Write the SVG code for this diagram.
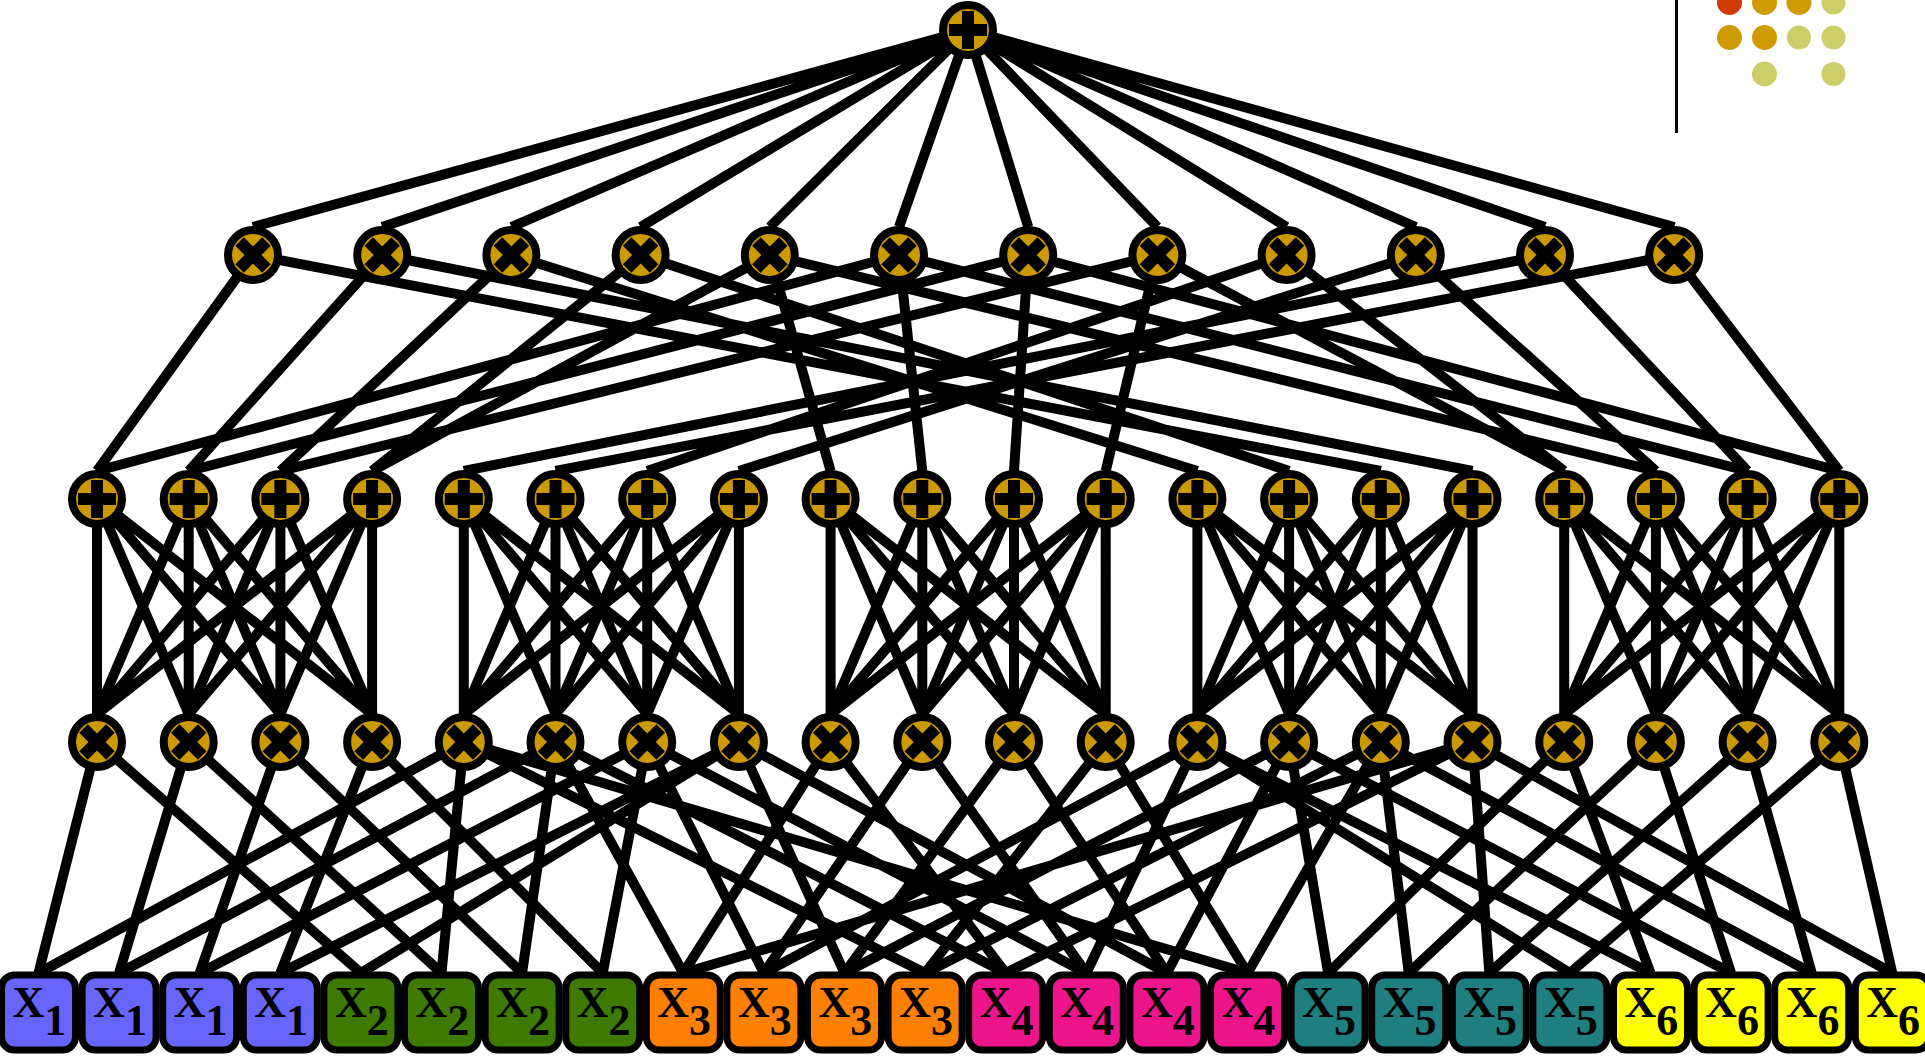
<svg xmlns="http://www.w3.org/2000/svg" xmlns:xlink="http://www.w3.org/1999/xlink" width="1925" height="1056" viewBox="0 0 1925 1056">
<style>
.e{stroke:#000;stroke-width:10;fill:none}
.n circle{fill:#CC9900;stroke:#000;stroke-width:8}
.lf rect{stroke:#000;stroke-width:7}
.lf text{font-family:"Liberation Serif",serif;font-weight:bold;font-size:44px;fill:#000}
.c1{fill:#6666FF}.c2{fill:#3F7A00}.c3{fill:#FF8000}.c4{fill:#F0148C}.c5{fill:#1F7F7F}.c6{fill:#FFFF00}
</style>
<defs>
<path id="plus" d="M-6-19h12v13h13v12h-13v13h-12v-13h-13v-12h13z"/>
<g id="times"><path transform="rotate(45)" d="M-6-19h12v13h13v12h-13v13h-12v-13h-13v-12h13z"/></g>
</defs>
<rect width="1925" height="1056" fill="#fff"/>
<g id="decor">
<line x1="1676.5" y1="0" x2="1676.5" y2="133" stroke="#000" stroke-width="3"/>
<circle cx="1729.5" cy="2.5" r="12.5" fill="#D13B02"/>
<circle cx="1764.5" cy="2.5" r="12.5" fill="#CF9B00"/>
<circle cx="1799" cy="2.5" r="12.5" fill="#CF9B00"/>
<circle cx="1833.5" cy="2.5" r="12" fill="#CDCD69"/>
<circle cx="1729.5" cy="37.5" r="12.5" fill="#CF9B00"/>
<circle cx="1764.5" cy="37.5" r="12.5" fill="#CF9B00"/>
<circle cx="1799" cy="37.5" r="12" fill="#CDCD69"/>
<circle cx="1833.5" cy="37.5" r="12" fill="#CDCD69"/>
<circle cx="1764.5" cy="74" r="12.5" fill="#CDCD69"/>
<circle cx="1833.5" cy="74" r="12" fill="#CDCD69"/>
</g>
<g id="connectors" class="e">
<path d="M968 30L253 227M968 30L382.2 227M968 30L511.4 227M968 30L640.6 227M968 30L769.8 227M968 30L899 227M968 30L1028.2 227M968 30L1157.4 227M968 30L1286.6 227M968 30L1415.8 227M968 30L1545 227M968 30L1674.2 227"/>
<path d="M253 255L97 471M253 255L1380.8 471M382.2 255L188.7 471M382.2 255L1472.5 471M511.4 255L280.4 471M511.4 255L1197.4 471M640.6 255L372.1 471M640.6 255L1289.1 471M769.8 255L372.1 471M769.8 255L830.6 471M769.8 255L1655.9 471M899 255L97 471M899 255L922.3 471M899 255L1747.6 471M1028.2 255L188.7 471M1028.2 255L1014 471M1028.2 255L1839.3 471M1157.4 255L280.4 471M1157.4 255L1105.7 471M1157.4 255L1564.2 471M1286.6 255L1564.2 471M1286.6 255L647.2 471M1415.8 255L1655.9 471M1415.8 255L738.9 471M1545 255L1747.6 471M1545 255L463.8 471M1674.2 255L1839.3 471M1674.2 255L555.5 471"/>
<path d="M97 499L97 714M97 499L188.7 714M97 499L280.4 714M97 499L372.1 714M188.7 499L97 714M188.7 499L188.7 714M188.7 499L280.4 714M188.7 499L372.1 714M280.4 499L97 714M280.4 499L188.7 714M280.4 499L280.4 714M280.4 499L372.1 714M372.1 499L97 714M372.1 499L188.7 714M372.1 499L280.4 714M372.1 499L372.1 714"/>
<path d="M463.8 499L463.8 714M463.8 499L555.5 714M463.8 499L647.2 714M463.8 499L738.9 714M555.5 499L463.8 714M555.5 499L555.5 714M555.5 499L647.2 714M555.5 499L738.9 714M647.2 499L463.8 714M647.2 499L555.5 714M647.2 499L647.2 714M647.2 499L738.9 714M738.9 499L463.8 714M738.9 499L555.5 714M738.9 499L647.2 714M738.9 499L738.9 714"/>
<path d="M830.6 499L830.6 714M830.6 499L922.3 714M830.6 499L1014 714M830.6 499L1105.7 714M922.3 499L830.6 714M922.3 499L922.3 714M922.3 499L1014 714M922.3 499L1105.7 714M1014 499L830.6 714M1014 499L922.3 714M1014 499L1014 714M1014 499L1105.7 714M1105.7 499L830.6 714M1105.7 499L922.3 714M1105.7 499L1014 714M1105.7 499L1105.7 714"/>
<path d="M1197.4 499L1197.4 714M1197.4 499L1289.1 714M1197.4 499L1380.8 714M1197.4 499L1472.5 714M1289.1 499L1197.4 714M1289.1 499L1289.1 714M1289.1 499L1380.8 714M1289.1 499L1472.5 714M1380.8 499L1197.4 714M1380.8 499L1289.1 714M1380.8 499L1380.8 714M1380.8 499L1472.5 714M1472.5 499L1197.4 714M1472.5 499L1289.1 714M1472.5 499L1380.8 714M1472.5 499L1472.5 714"/>
<path d="M1564.2 499L1564.2 714M1564.2 499L1655.9 714M1564.2 499L1747.6 714M1564.2 499L1839.3 714M1655.9 499L1564.2 714M1655.9 499L1655.9 714M1655.9 499L1747.6 714M1655.9 499L1839.3 714M1747.6 499L1564.2 714M1747.6 499L1655.9 714M1747.6 499L1747.6 714M1747.6 499L1839.3 714M1839.3 499L1564.2 714M1839.3 499L1655.9 714M1839.3 499L1747.6 714M1839.3 499L1839.3 714"/>
<path d="M97 742L38.5 973M97 742L360.9 973M188.7 742L119.1 973M188.7 742L441.5 973M280.4 742L199.7 973M280.4 742L522.1 973M372.1 742L280.3 973M372.1 742L602.7 973"/>
<path d="M463.8 742L38.5 973M463.8 742L441.5 973M463.8 742L925.1 973M463.8 742L1247.5 973M555.5 742L119.1 973M555.5 742L522.1 973M555.5 742L683.3 973M555.5 742L1005.7 973M647.2 742L199.7 973M647.2 742L602.7 973M647.2 742L763.9 973M647.2 742L1086.3 973M738.9 742L280.3 973M738.9 742L360.9 973M738.9 742L844.5 973M738.9 742L1166.9 973"/>
<path d="M830.6 742L683.3 973M830.6 742L1005.7 973M922.3 742L763.9 973M922.3 742L1086.3 973M1014 742L844.5 973M1014 742L1166.9 973M1105.7 742L925.1 973M1105.7 742L1247.5 973"/>
<path d="M1197.4 742L1650.5 973M1197.4 742L1569.9 973M1197.4 742L1086.3 973M1197.4 742L763.9 973M1289.1 742L1731.1 973M1289.1 742L1328.1 973M1289.1 742L1166.9 973M1289.1 742L844.5 973M1380.8 742L1811.7 973M1380.8 742L1408.7 973M1380.8 742L1247.5 973M1380.8 742L925.1 973M1472.5 742L1892.3 973M1472.5 742L1489.3 973M1472.5 742L1005.7 973M1472.5 742L683.3 973"/>
<path d="M1564.2 742L1650.5 973M1564.2 742L1328.1 973M1655.9 742L1731.1 973M1655.9 742L1408.7 973M1747.6 742L1811.7 973M1747.6 742L1489.3 973M1839.3 742L1892.3 973M1839.3 742L1569.9 973"/>
</g>
<g id="root" class="n"><circle cx="968" cy="30" r="25"/><use xlink:href="#plus" x="968" y="30"/></g>
<g id="t0" class="n"><circle cx="253" cy="255" r="25"/><use xlink:href="#times" x="253" y="255"/></g>
<g id="t1" class="n"><circle cx="382.2" cy="255" r="25"/><use xlink:href="#times" x="382.2" y="255"/></g>
<g id="t2" class="n"><circle cx="511.4" cy="255" r="25"/><use xlink:href="#times" x="511.4" y="255"/></g>
<g id="t3" class="n"><circle cx="640.6" cy="255" r="25"/><use xlink:href="#times" x="640.6" y="255"/></g>
<g id="t4" class="n"><circle cx="769.8" cy="255" r="25"/><use xlink:href="#times" x="769.8" y="255"/></g>
<g id="t5" class="n"><circle cx="899" cy="255" r="25"/><use xlink:href="#times" x="899" y="255"/></g>
<g id="t6" class="n"><circle cx="1028.2" cy="255" r="25"/><use xlink:href="#times" x="1028.2" y="255"/></g>
<g id="t7" class="n"><circle cx="1157.4" cy="255" r="25"/><use xlink:href="#times" x="1157.4" y="255"/></g>
<g id="t8" class="n"><circle cx="1286.6" cy="255" r="25"/><use xlink:href="#times" x="1286.6" y="255"/></g>
<g id="t9" class="n"><circle cx="1415.8" cy="255" r="25"/><use xlink:href="#times" x="1415.8" y="255"/></g>
<g id="t10" class="n"><circle cx="1545" cy="255" r="25"/><use xlink:href="#times" x="1545" y="255"/></g>
<g id="t11" class="n"><circle cx="1674.2" cy="255" r="25"/><use xlink:href="#times" x="1674.2" y="255"/></g>
<g id="p0" class="n"><circle cx="97" cy="499" r="25"/><use xlink:href="#plus" x="97" y="499"/></g>
<g id="p1" class="n"><circle cx="188.7" cy="499" r="25"/><use xlink:href="#plus" x="188.7" y="499"/></g>
<g id="p2" class="n"><circle cx="280.4" cy="499" r="25"/><use xlink:href="#plus" x="280.4" y="499"/></g>
<g id="p3" class="n"><circle cx="372.1" cy="499" r="25"/><use xlink:href="#plus" x="372.1" y="499"/></g>
<g id="p4" class="n"><circle cx="463.8" cy="499" r="25"/><use xlink:href="#plus" x="463.8" y="499"/></g>
<g id="p5" class="n"><circle cx="555.5" cy="499" r="25"/><use xlink:href="#plus" x="555.5" y="499"/></g>
<g id="p6" class="n"><circle cx="647.2" cy="499" r="25"/><use xlink:href="#plus" x="647.2" y="499"/></g>
<g id="p7" class="n"><circle cx="738.9" cy="499" r="25"/><use xlink:href="#plus" x="738.9" y="499"/></g>
<g id="p8" class="n"><circle cx="830.6" cy="499" r="25"/><use xlink:href="#plus" x="830.6" y="499"/></g>
<g id="p9" class="n"><circle cx="922.3" cy="499" r="25"/><use xlink:href="#plus" x="922.3" y="499"/></g>
<g id="p10" class="n"><circle cx="1014" cy="499" r="25"/><use xlink:href="#plus" x="1014" y="499"/></g>
<g id="p11" class="n"><circle cx="1105.7" cy="499" r="25"/><use xlink:href="#plus" x="1105.7" y="499"/></g>
<g id="p12" class="n"><circle cx="1197.4" cy="499" r="25"/><use xlink:href="#plus" x="1197.4" y="499"/></g>
<g id="p13" class="n"><circle cx="1289.1" cy="499" r="25"/><use xlink:href="#plus" x="1289.1" y="499"/></g>
<g id="p14" class="n"><circle cx="1380.8" cy="499" r="25"/><use xlink:href="#plus" x="1380.8" y="499"/></g>
<g id="p15" class="n"><circle cx="1472.5" cy="499" r="25"/><use xlink:href="#plus" x="1472.5" y="499"/></g>
<g id="p16" class="n"><circle cx="1564.2" cy="499" r="25"/><use xlink:href="#plus" x="1564.2" y="499"/></g>
<g id="p17" class="n"><circle cx="1655.9" cy="499" r="25"/><use xlink:href="#plus" x="1655.9" y="499"/></g>
<g id="p18" class="n"><circle cx="1747.6" cy="499" r="25"/><use xlink:href="#plus" x="1747.6" y="499"/></g>
<g id="p19" class="n"><circle cx="1839.3" cy="499" r="25"/><use xlink:href="#plus" x="1839.3" y="499"/></g>
<g id="m0" class="n"><circle cx="97" cy="742" r="25"/><use xlink:href="#times" x="97" y="742"/></g>
<g id="m1" class="n"><circle cx="188.7" cy="742" r="25"/><use xlink:href="#times" x="188.7" y="742"/></g>
<g id="m2" class="n"><circle cx="280.4" cy="742" r="25"/><use xlink:href="#times" x="280.4" y="742"/></g>
<g id="m3" class="n"><circle cx="372.1" cy="742" r="25"/><use xlink:href="#times" x="372.1" y="742"/></g>
<g id="m4" class="n"><circle cx="463.8" cy="742" r="25"/><use xlink:href="#times" x="463.8" y="742"/></g>
<g id="m5" class="n"><circle cx="555.5" cy="742" r="25"/><use xlink:href="#times" x="555.5" y="742"/></g>
<g id="m6" class="n"><circle cx="647.2" cy="742" r="25"/><use xlink:href="#times" x="647.2" y="742"/></g>
<g id="m7" class="n"><circle cx="738.9" cy="742" r="25"/><use xlink:href="#times" x="738.9" y="742"/></g>
<g id="m8" class="n"><circle cx="830.6" cy="742" r="25"/><use xlink:href="#times" x="830.6" y="742"/></g>
<g id="m9" class="n"><circle cx="922.3" cy="742" r="25"/><use xlink:href="#times" x="922.3" y="742"/></g>
<g id="m10" class="n"><circle cx="1014" cy="742" r="25"/><use xlink:href="#times" x="1014" y="742"/></g>
<g id="m11" class="n"><circle cx="1105.7" cy="742" r="25"/><use xlink:href="#times" x="1105.7" y="742"/></g>
<g id="m12" class="n"><circle cx="1197.4" cy="742" r="25"/><use xlink:href="#times" x="1197.4" y="742"/></g>
<g id="m13" class="n"><circle cx="1289.1" cy="742" r="25"/><use xlink:href="#times" x="1289.1" y="742"/></g>
<g id="m14" class="n"><circle cx="1380.8" cy="742" r="25"/><use xlink:href="#times" x="1380.8" y="742"/></g>
<g id="m15" class="n"><circle cx="1472.5" cy="742" r="25"/><use xlink:href="#times" x="1472.5" y="742"/></g>
<g id="m16" class="n"><circle cx="1564.2" cy="742" r="25"/><use xlink:href="#times" x="1564.2" y="742"/></g>
<g id="m17" class="n"><circle cx="1655.9" cy="742" r="25"/><use xlink:href="#times" x="1655.9" y="742"/></g>
<g id="m18" class="n"><circle cx="1747.6" cy="742" r="25"/><use xlink:href="#times" x="1747.6" y="742"/></g>
<g id="m19" class="n"><circle cx="1839.3" cy="742" r="25"/><use xlink:href="#times" x="1839.3" y="742"/></g>
<g id="leaf0" class="lf"><rect class="c1" x="1.5" y="975" width="74" height="75" rx="13"/><text x="12.5" y="1017">X<tspan dy="18">1</tspan></text></g>
<g id="leaf1" class="lf"><rect class="c1" x="82.1" y="975" width="74" height="75" rx="13"/><text x="93.1" y="1017">X<tspan dy="18">1</tspan></text></g>
<g id="leaf2" class="lf"><rect class="c1" x="162.7" y="975" width="74" height="75" rx="13"/><text x="173.7" y="1017">X<tspan dy="18">1</tspan></text></g>
<g id="leaf3" class="lf"><rect class="c1" x="243.3" y="975" width="74" height="75" rx="13"/><text x="254.3" y="1017">X<tspan dy="18">1</tspan></text></g>
<g id="leaf4" class="lf"><rect class="c2" x="323.9" y="975" width="74" height="75" rx="13"/><text x="334.9" y="1017">X<tspan dy="18">2</tspan></text></g>
<g id="leaf5" class="lf"><rect class="c2" x="404.5" y="975" width="74" height="75" rx="13"/><text x="415.5" y="1017">X<tspan dy="18">2</tspan></text></g>
<g id="leaf6" class="lf"><rect class="c2" x="485.1" y="975" width="74" height="75" rx="13"/><text x="496.1" y="1017">X<tspan dy="18">2</tspan></text></g>
<g id="leaf7" class="lf"><rect class="c2" x="565.7" y="975" width="74" height="75" rx="13"/><text x="576.7" y="1017">X<tspan dy="18">2</tspan></text></g>
<g id="leaf8" class="lf"><rect class="c3" x="646.3" y="975" width="74" height="75" rx="13"/><text x="657.3" y="1017">X<tspan dy="18">3</tspan></text></g>
<g id="leaf9" class="lf"><rect class="c3" x="726.9" y="975" width="74" height="75" rx="13"/><text x="737.9" y="1017">X<tspan dy="18">3</tspan></text></g>
<g id="leaf10" class="lf"><rect class="c3" x="807.5" y="975" width="74" height="75" rx="13"/><text x="818.5" y="1017">X<tspan dy="18">3</tspan></text></g>
<g id="leaf11" class="lf"><rect class="c3" x="888.1" y="975" width="74" height="75" rx="13"/><text x="899.1" y="1017">X<tspan dy="18">3</tspan></text></g>
<g id="leaf12" class="lf"><rect class="c4" x="968.7" y="975" width="74" height="75" rx="13"/><text x="979.7" y="1017">X<tspan dy="18">4</tspan></text></g>
<g id="leaf13" class="lf"><rect class="c4" x="1049.3" y="975" width="74" height="75" rx="13"/><text x="1060.3" y="1017">X<tspan dy="18">4</tspan></text></g>
<g id="leaf14" class="lf"><rect class="c4" x="1129.9" y="975" width="74" height="75" rx="13"/><text x="1140.9" y="1017">X<tspan dy="18">4</tspan></text></g>
<g id="leaf15" class="lf"><rect class="c4" x="1210.5" y="975" width="74" height="75" rx="13"/><text x="1221.5" y="1017">X<tspan dy="18">4</tspan></text></g>
<g id="leaf16" class="lf"><rect class="c5" x="1291.1" y="975" width="74" height="75" rx="13"/><text x="1302.1" y="1017">X<tspan dy="18">5</tspan></text></g>
<g id="leaf17" class="lf"><rect class="c5" x="1371.7" y="975" width="74" height="75" rx="13"/><text x="1382.7" y="1017">X<tspan dy="18">5</tspan></text></g>
<g id="leaf18" class="lf"><rect class="c5" x="1452.3" y="975" width="74" height="75" rx="13"/><text x="1463.3" y="1017">X<tspan dy="18">5</tspan></text></g>
<g id="leaf19" class="lf"><rect class="c5" x="1532.9" y="975" width="74" height="75" rx="13"/><text x="1543.9" y="1017">X<tspan dy="18">5</tspan></text></g>
<g id="leaf20" class="lf"><rect class="c6" x="1613.5" y="975" width="74" height="75" rx="13"/><text x="1624.5" y="1017">X<tspan dy="18">6</tspan></text></g>
<g id="leaf21" class="lf"><rect class="c6" x="1694.1" y="975" width="74" height="75" rx="13"/><text x="1705.1" y="1017">X<tspan dy="18">6</tspan></text></g>
<g id="leaf22" class="lf"><rect class="c6" x="1774.7" y="975" width="74" height="75" rx="13"/><text x="1785.7" y="1017">X<tspan dy="18">6</tspan></text></g>
<g id="leaf23" class="lf"><rect class="c6" x="1855.3" y="975" width="74" height="75" rx="13"/><text x="1866.3" y="1017">X<tspan dy="18">6</tspan></text></g>
</svg>
